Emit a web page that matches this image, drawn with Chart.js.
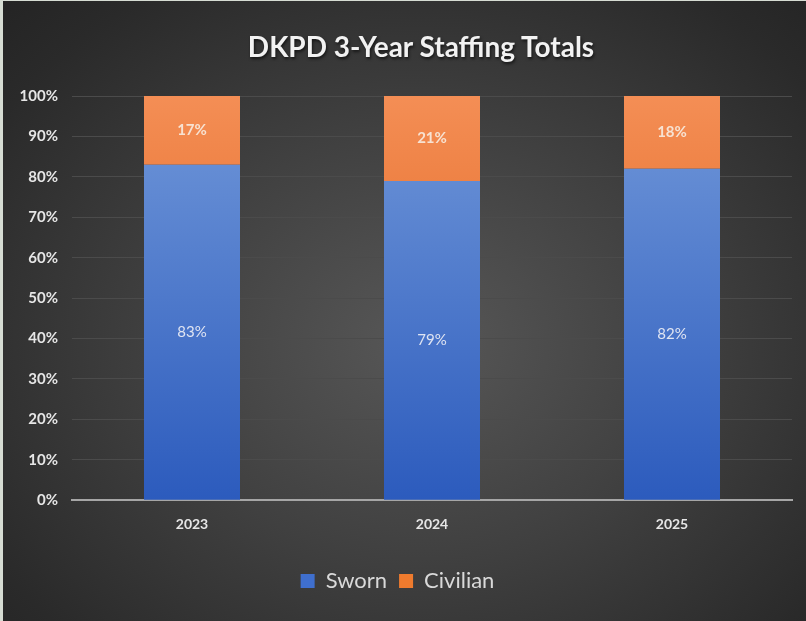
<!DOCTYPE html>
<html>
<head>
<meta charset="utf-8">
<script src="https://cdn.jsdelivr.net/npm/chart.js@4"></script>
<style>
  html, body { margin: 0; padding: 0; }
  body { width: 806px; height: 621px; overflow: hidden; }
  #wrap {
    position: relative;
    width: 803px; height: 620px;
    border-left: 3px solid #d6dcd3;
    border-top: 1px solid #d6dcd3;
    background: radial-gradient(ellipse at 52% 55%, #575757 0%, #404040 45%, #2a2a2a 85%, #242424 100%);
  }
  #title {
    position: absolute;
    left: 0; width: 836px; top: 28px;
    text-align: center;
    font: bold 28px Lato, "Open Sans", sans-serif;
    color: #f2f2f2;
    text-shadow: 1px 2px 3px rgba(0, 0, 0, 0.6);
  }
  canvas { display: block; }
</style>
</head>
<body>
<div id="wrap">
  <div id="title">DKPD 3-Year Staffing Totals</div>
  <canvas id="chart" width="803" height="620"></canvas>
</div>
<script>
// chart values
var years = ['2023', '2024', '2025'];
var sworn = [83, 79, 82];
var civilian = [17, 21, 18];
var yTicks = [0, 10, 20, 30, 40, 50, 60, 70, 80, 90, 100];

var fontFam = 'Lato, "Open Sans", sans-serif';
var legendColors = ['#3f6fce', '#ef7b2e'];

// vertical gradient over the plot area
function barGradient(top, bottom) {
    return function(context) {
        var chart = context.chart;
        var area = chart.chartArea;
        if (!area) return bottom;
        var g = chart.ctx.createLinearGradient(0, area.top, 0, area.bottom);
        g.addColorStop(0, top);
        g.addColorStop(1, bottom);
        return g;
    };
}

// draws the percentage in the middle of each segment
var segmentLabels = {
    id: 'segmentLabels',
    afterDatasetsDraw: function(chart) {
        var ctx = chart.ctx;
        ctx.save();
        ctx.textAlign = 'center';
        ctx.textBaseline = 'middle';
        chart.data.datasets.forEach(function(ds, i) {
            var meta = chart.getDatasetMeta(i);
            meta.data.forEach(function(bar, j) {
                var mid = (bar.y + bar.base) / 2;
                if (i === 0) {
                    ctx.font = '15px ' + fontFam;
                    ctx.fillStyle = '#dfe4f2';
                } else {
                    ctx.font = 'bold 15px ' + fontFam;
                    ctx.fillStyle = '#f7e2d2';
                }
                ctx.fillText(ds.data[j] + '%', bar.x, mid);
            });
        });
        ctx.restore();
    }
};

var ctx = document.getElementById('chart').getContext('2d');
new Chart(ctx, {
    type: 'bar',
    data: {
        labels: years,
        datasets: [{
            label: 'Sworn',
            data: sworn,
            backgroundColor: barGradient('#7097d9', '#2c5bbd'),
            borderWidth: 0
        }, {
            label: 'Civilian',
            data: civilian,
            backgroundColor: barGradient('#f48e55', '#d9560c'),
            borderWidth: 0
        }]
    },
    options: {
        responsive: false,
        animation: false,
        layout: { padding: { left: 0, right: 14, top: 95, bottom: 19 } },
        datasets: { bar: { categoryPercentage: 0.4, barPercentage: 1 } },
        scales: {
            x: {
                stacked: true,
                grid: { display: false },
                border: { color: '#a6a6a6', width: 2 },
                afterFit: function(scale) { scale.height += 17; },
                ticks: { color: '#e6e6e6', font: { family: fontFam, size: 14, weight: 'bold' }, padding: 8 }
            },
            y: {
                stacked: true,
                min: 0,
                max: 100,
                afterBuildTicks: function(scale) {
                    scale.ticks = yTicks.map(function(v) { return { value: v }; });
                },
                afterFit: function(scale) { scale.width = 69; },
                grid: { color: '#4b4b4b', lineWidth: 1, drawTicks: false },
                border: { display: false },
                ticks: {
                    color: '#e6e6e6',
                    padding: 14,
                    font: { family: fontFam, size: 15, weight: 'bold' },
                    callback: function(v) { return v + '%'; }
                }
            }
        },
        plugins: {
            title: { display: false },
            legend: {
                position: 'bottom',
                labels: {
                    color: '#d9d9d9',
                    font: { family: fontFam, size: 22 },
                    boxWidth: 14,
                    boxHeight: 14,
                    padding: 12,
                    generateLabels: function(chart) {
                        var items = Chart.defaults.plugins.legend.labels.generateLabels(chart);
                        items.forEach(function(item, i) {
                            item.fillStyle = legendColors[i];
                            item.strokeStyle = legendColors[i];
                            item.lineWidth = 0;
                        });
                        return items;
                    }
                }
            },
            tooltip: { enabled: false }
        }
    },
    plugins: [segmentLabels]
});
</script>
</body>
</html>
